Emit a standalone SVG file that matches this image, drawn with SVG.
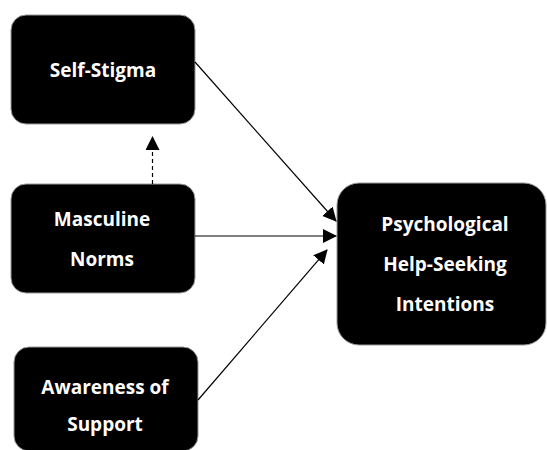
<svg xmlns="http://www.w3.org/2000/svg" width="547" height="450" viewBox="0 0 547 450">
<style>
.box{fill:#000;stroke:#9a9a9a;stroke-width:1}
.lbl{fill:#fff;font-family:"Open Sans","Liberation Sans",sans-serif;font-weight:bold;font-size:19px;text-anchor:middle}
.edge{stroke:#000;stroke-width:1.2;fill:none}
</style>
<defs>
<marker id="ah" markerWidth="14" markerHeight="14" viewBox="0 0 14 14" refX="13" refY="7" orient="auto" markerUnits="userSpaceOnUse">
<path d="M0,0 L14,7 L0,14 Z" fill="#000"/>
</marker>
</defs>
<rect x="0" y="0" width="547" height="450" fill="#fff"/>
<g id="self-stigma">
<rect class="box" x="11" y="15" width="184" height="109" rx="15"/>
<text class="lbl" x="103" y="77">Self-Stigma</text>
</g>
<g id="masculine-norms">
<rect class="box" x="11" y="184" width="184" height="109" rx="15"/>
<text class="lbl" x="102" y="226">Masculine</text>
<text class="lbl" x="102" y="266">Norms</text>
</g>
<g id="awareness-of-support">
<rect class="box" x="14" y="347" width="184" height="104" rx="15"/>
<text class="lbl" x="105" y="394">Awareness of</text>
<text class="lbl" x="105" y="431">Support</text>
</g>
<g id="help-seeking">
<rect class="box" x="337" y="183" width="209" height="162" rx="22"/>
<text class="lbl" x="445" y="231">Psychological</text>
<text class="lbl" x="445" y="271">Help-Seeking</text>
<text class="lbl" x="445" y="311">Intentions</text>
</g>
<g id="connectors">
<line class="edge" x1="195" y1="62" x2="336" y2="221" marker-end="url(#ah)"/>
<line class="edge" x1="195" y1="236" x2="336" y2="236" marker-end="url(#ah)"/>
<line class="edge" x1="198" y1="400" x2="327" y2="250" marker-end="url(#ah)"/>
<line class="edge" x1="152.5" y1="184" x2="152.5" y2="137" stroke-dasharray="4,3" marker-end="url(#ah)"/>
</g>
</svg>
